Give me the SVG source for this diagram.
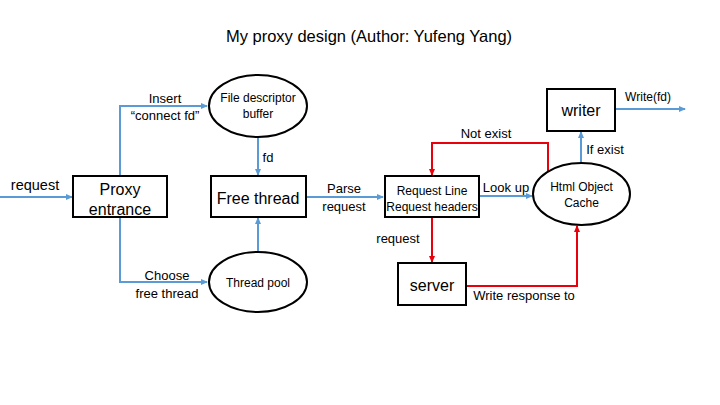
<svg xmlns="http://www.w3.org/2000/svg" width="720" height="405" viewBox="0 0 720 405">
<defs>
<style>
text{font-family:"Liberation Sans",Arial,sans-serif;fill:#000;text-anchor:middle;dominant-baseline:central}
.box{fill:#fff;stroke:#000;stroke-width:2}
.big{font-size:16px}
.lbl{font-size:13px}
.sm{font-size:12px}
.b{fill:none;stroke:#5B9BD5;stroke-width:2}
.r{fill:none;stroke:#E8000B;stroke-width:2}
</style>
<marker id="ab" markerWidth="8" markerHeight="8" refX="6" refY="4" orient="auto" markerUnits="userSpaceOnUse"><path d="M0,1 L7,4 L0,7 Z" fill="#5B9BD5"/></marker>
<marker id="ar" markerWidth="8" markerHeight="8" refX="6" refY="4" orient="auto" markerUnits="userSpaceOnUse"><path d="M0,1 L7,4 L0,7 Z" fill="#E8000B"/></marker>
</defs>
<rect width="720" height="405" fill="#fff"/>
<text x="369" y="36" style="font-size:16.5px">My proxy design (Author: Yufeng Yang)</text>

<g id="connectors">
<path class="b" d="M0,197 H72" marker-end="url(#ab)"/>
<path class="b" d="M120,176 V106 H207" marker-end="url(#ab)"/>
<path class="b" d="M120,217 V282 H207" marker-end="url(#ab)"/>
<path class="b" d="M258,137 V175" marker-end="url(#ab)"/>
<path class="b" d="M258,252 V218" marker-end="url(#ab)"/>
<path class="b" d="M306,197 H383" marker-end="url(#ab)"/>
<path class="b" d="M479,196 H532" marker-end="url(#ab)"/>
<path class="b" d="M581,163 V132" marker-end="url(#ab)"/>
<path class="b" d="M615,109 H685" marker-end="url(#ab)"/>
<path class="r" d="M548,171 V143 H432 V175" marker-end="url(#ar)"/>
<path class="r" d="M432,217 V262" marker-end="url(#ar)"/>
<path class="r" d="M466,286 H577 V226" marker-end="url(#ar)"/>
<text x="35" y="185" style="font-size:14.5px">request</text>
<text class="lbl" x="165" y="98">Insert</text>
<text class="lbl" x="165" y="115">“connect fd”</text>
<text class="lbl" x="167" y="275">Choose</text>
<text class="lbl" x="167" y="293">free thread</text>
<text class="lbl" x="268" y="157">fd</text>
<text class="lbl" x="344" y="188">Parse</text>
<text class="lbl" x="344" y="206">request</text>
<text class="lbl" x="506" y="187">Look up</text>
<text class="lbl" x="486" y="133">Not exist</text>
<text class="lbl" x="398" y="238">request</text>
<text class="lbl" x="605" y="149">If exist</text>
<text class="sm" x="648" y="97">Write(fd)</text>
<text class="lbl" x="524" y="295">Write response to</text>
</g>

<g id="proxy">
<rect class="box" x="73" y="176" width="94" height="41"/>
<text class="big" x="120" y="189">Proxy</text>
<text class="big" x="120" y="209">entrance</text>
</g>
<g id="fdbuffer">
<ellipse class="box" cx="258" cy="106" rx="49" ry="31"/>
<text class="sm" x="258" y="98">File descriptor</text>
<text class="sm" x="258" y="114">buffer</text>
</g>
<g id="freethread">
<rect class="box" x="211" y="176" width="95" height="41"/>
<text class="big" x="258" y="198">Free thread</text>
</g>
<g id="threadpool">
<ellipse class="box" cx="258" cy="282" rx="49" ry="30"/>
<text class="sm" x="258" y="283">Thread pool</text>
</g>
<g id="request">
<rect class="box" x="385" y="176" width="94" height="41"/>
<text class="sm" x="432" y="191">Request Line</text>
<text class="sm" x="432" y="207">Request headers</text>
</g>
<g id="cache">
<ellipse class="box" cx="581.5" cy="194" rx="48.5" ry="31"/>
<text class="sm" x="581.5" y="187">Html Object</text>
<text class="sm" x="581.5" y="203">Cache</text>
</g>
<g id="writer">
<rect class="box" x="547" y="89" width="68" height="42"/>
<text class="big" x="581" y="110">writer</text>
</g>
<g id="server">
<rect class="box" x="398" y="263" width="68" height="42"/>
<text class="big" x="432" y="285">server</text>
</g>
</svg>
